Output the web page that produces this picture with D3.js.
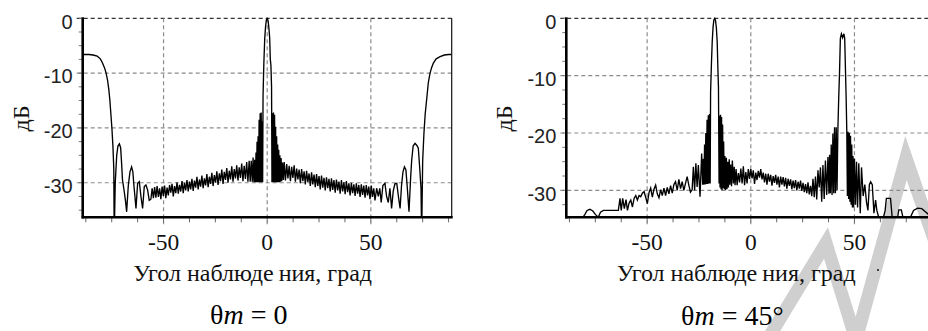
<!DOCTYPE html>
<html>
<head>
<meta charset="utf-8">
<script src="https://cdn.jsdelivr.net/npm/d3@7"></script>
<style>
body { margin: 0; background: #fff; }
svg { display: block; }
</style>
</head>
<body>
<svg id="chart" width="928" height="331"></svg>
<script>
// диаграмма направленности, θm = 0  [угол, дБ]
var pattern0 = [
  [-89,-6.6],[-86,-6.6],[-84,-6.7],[-82,-6.9],[-80.5,-7.4],[-79.5,-8.1],[-78.5,-9.0],[-77.7,-10.0],[-77,-11.3],[-76.4,-13.0],[-75.9,-14.9],[-75.4,-17.5],[-74.9,-20.1],[-74.4,-23.5],[-74.0,-27.5],[-73.8,-40],
  [-73.3,-30],[-72.6,-25],[-72.0,-23.3],[-71.3,-22.9],[-70.7,-23.6],[-70.3,-26],[-69.8,-29.5],[-69.0,-31.5],[-68.3,-33.5],[-67.8,-35.3],[-67.0,-30.5],[-66.2,-28],[-65.4,-27.1],[-64.8,-28],[-64.3,-30.5],[-63.8,-32.5],[-63.3,-34.7],
  [-62.5,-30.1],[-61.7,-29.8],[-60.9,-32.5],[-60.1,-34.7],[-59.3,-30.7],[-58.5,-30.4],[-57.7,-31.3],[-56.9,-33.2],[-56.1,-33.0],[-55.5,-31.0],[-54.9,-32.8],[-54.3,-30.8],[-53.7,-32.7],
  [-53.1,-30.6],[-52.5,-32.6],[-51.9,-31.0],[-51.3,-33.0],[-50.7,-30.7],[-50.1,-32.4],[-49.5,-30.5],[-48.9,-32.8],[-48.3,-30.9],[-47.7,-32.3],[-47.1,-30.4],[-46.5,-31.8],[-45.9,-30.2],[-45.3,-32.5],[-44.7,-30.6],[-44.1,-31.9],[-43.5,-29.9],[-42.9,-32.0],[-42.3,-30.4],[-41.7,-31.6],[-41.1,-29.7],[-40.5,-31.9],[-39.9,-30.0],[-39.3,-31.4],[-38.7,-29.5],[-38.1,-31.6],[-37.5,-29.8],[-36.9,-31.2],[-36.3,-29.3],[-35.7,-31.5],[-35.1,-29.6],[-34.5,-30.9],[-33.9,-28.9],[-33.3,-31.2],[-32.7,-29.4],[-32.1,-30.7],[-31.5,-28.7],[-30.9,-31.0],[-30.3,-29.2],[-29.7,-30.5],[-29.1,-28.4],[-28.5,-30.8],[-27.9,-28.9],[-27.3,-30.2],[-26.7,-28.2],[-26.1,-30.6],[-25.5,-28.6],[-24.9,-30.0],[-24.3,-27.9],[-23.7,-30.4],[-23.1,-28.3],[-22.5,-29.7],[-21.9,-27.6],[-21.3,-30.2],[-20.7,-28.0],[-20.1,-29.5],[-19.5,-27.3],[-18.9,-30.0],[-18.3,-27.8],[-17.7,-29.4],[-17.1,-27.0],[-16.5,-29.8],[-15.9,-27.5],[-15.3,-29.2],[-14.7,-26.8],[-14.1,-29.6],[-13.5,-27.2],[-12.9,-29.1],[-12.3,-26.5],[-11.7,-29.7],[-11.1,-26.9],[-10.5,-29.3],[-9.9,-26.2],[-9.3,-29.8],[-8.7,-26.0],[-8.2,-29.8],
  [-7.7,-26.0],[-7.2,-29.8],[-6.8,-25.4],[-6.4,-29.9],[-6.0,-25.8],[-5.7,-29.9],[-5.4,-24.5],[-5.15,-29.9],[-4.9,-22.5],[-4.65,-29.9],[-4.4,-21.5],[-4.15,-29.9],[-3.9,-18.5],[-3.65,-29.9],[-3.4,-17.3],[-3.15,-29.9],[-2.9,-17.2],[-2.65,-29.9],[-2.4,-18.8],[-2.2,-29.9],
  [-2.0,-14],[-1.6,-8],[-1.2,-3.8],[-0.8,-1.5],[-0.4,-0.3],[0,0],[0.4,-0.4],[0.8,-1.7],[1.2,-3.6],[1.5,-7.5],[1.8,-8.6],[2.1,-12.5],[2.3,-29.9],
  [2.55,-17.3],[2.8,-29.9],[3.05,-17.2],[3.3,-29.9],[3.55,-17.6],[3.8,-29.9],[4.05,-19.8],[4.3,-29.9],[4.55,-21.5],[4.8,-29.9],[5.05,-23.0],[5.3,-29.9],[5.55,-24.0],[5.8,-29.9],[6.1,-25.0],[6.4,-29.8],[6.7,-25.5],[7.0,-29.7],[7.4,-26.3],[7.8,-29.5],
  [8.2,-26.2],[8.8,-29.6],[9.4,-26.6],[10.0,-29.2],[10.6,-26.9],[11.2,-29.7],[11.8,-27.1],[12.4,-29.1],[13.0,-26.8],[13.6,-29.8],[14.2,-27.4],[14.8,-29.4],[15.4,-27.6],[16.0,-30.1],[16.6,-27.5],[17.2,-29.7],[17.8,-27.9],[18.4,-30.3],[19.0,-27.8],[19.6,-29.9],[20.2,-28.3],[20.8,-30.6],[21.4,-28.1],[22.0,-30.3],[22.6,-28.5],[23.2,-30.8],[23.8,-28.4],[24.4,-30.6],[25.0,-28.8],[25.6,-31.2],[26.2,-28.7],[26.8,-30.9],[27.4,-29.1],[28.0,-31.4],[28.6,-29.0],[29.2,-31.0],[29.8,-29.3],[30.4,-31.6],[31.0,-29.2],[31.6,-31.3],[32.2,-29.5],[32.8,-31.8],[33.4,-29.4],[34.0,-31.4],[34.6,-29.8],[35.2,-32.0],[35.8,-29.5],[36.4,-31.6],[37.0,-29.9],[37.6,-32.1],[38.2,-29.7],[38.8,-31.7],[39.4,-30.1],[40.0,-32.3],[40.6,-30.0],[41.2,-31.9],[41.8,-30.3],[42.4,-32.4],[43.0,-30.1],[43.6,-32.0],[44.2,-30.4],[44.8,-32.6],[45.4,-30.3],[46.0,-32.2],[46.6,-30.5],[47.2,-32.7],[47.8,-30.4],[48.4,-32.3],[49.0,-30.7],[49.6,-33.0],[50.2,-30.5],[50.8,-32.6],[51.4,-31.0],[52.0,-33.2],
  [52.8,-31.0],[53.6,-32.5],[54.3,-31.0],[55.0,-33.6],[55.8,-30.5],[56.8,-30.1],[57.6,-32.5],[58.4,-33.6],[59.2,-31.0],[60.0,-34.7],[60.8,-31.5],[61.6,-30.2],[62.5,-30.1],[63.3,-32.5],[64.1,-34.7],[64.8,-30.5],[65.5,-28.0],[66.2,-27.1],[66.9,-27.6],[67.5,-30.5],[68.4,-35.3],[69.2,-29.0],[69.7,-25.9],[70.4,-23.3],[71.3,-22.8],[72.2,-23.2],[72.9,-23.7],[73.6,-27.5],[74.2,-31],[74.5,-40],
  [75.0,-26],[75.6,-21],[76.2,-17.5],[76.9,-14.9],[77.7,-11.8],[78.5,-10.1],[79.3,-9.0],[80.1,-8.2],[81.5,-7.4],[83.4,-7.0],[85.5,-6.7],[87.5,-6.6],[89,-6.6]
];

// диаграмма направленности, θm = 45°  [угол, дБ]
var pattern45 = [
  [-89,-34.7],[-81,-34.7],[-80,-34.2],[-79,-33.5],[-77.6,-33.3],[-76.2,-33.6],[-75,-34.2],[-73.6,-34.7],[-72.5,-33.8],[-71.1,-33.5],[-63.9,-33.5],
  [-63.1,-31.4],[-62.5,-33.5],[-61.8,-31.4],[-61.0,-33.2],[-60.2,-31.6],[-59.5,-33.5],[-58.7,-32.2],[-57.9,-31.7],[-57.1,-32.9],[-56.3,-31.4],[-55.5,-30.9],[-54.7,-31.7],[-53.9,-30.9],[-53.1,-31.1],[-52.3,-30.5],[-51.5,-30.2],[-50.7,-31.2],[-49.9,-32.3],
  [-49.1,-30.4],[-48.3,-29.6],[-47.5,-31.2],[-46.7,-29.8],[-45.9,-29.1],[-45.1,-30.6],[-44.3,-31.3],[-43.5,-29.9],[-42.7,-30.9],[-41.9,-29.6],[-41.1,-30.9],[-40.3,-29.5],[-39.5,-30.6],[-38.7,-29.2],[-37.9,-30.5],[-37.1,-29.0],[-36.3,-28.5],[-35.5,-30.0],[-34.7,-28.1],[-33.9,-29.7],[-33.1,-28.5],[-32.3,-30.0],[-31.5,-28.8],[-30.7,-27.6],[-29.9,-29.1],[-29.1,-30.3],[-28.3,-29.9],
  [-27.7,-25.9],[-27.1,-30.0],[-26.5,-25.3],[-25.9,-29.4],[-25.3,-25.6],[-24.5,-31.1],[-23.7,-23.6],[-23.2,-29.0],
  [-22.9,-24.5],[-22.6,-29.0],[-22.3,-22.0],[-22.0,-29.0],[-21.7,-20.0],[-21.4,-28.9],[-21.1,-17.7],[-20.8,-28.9],[-20.5,-16.9],[-20.2,-28.8],[-19.9,-16.7],[-19.6,-28.8],
  [-19.4,-13],[-19.0,-8.0],[-18.6,-4.0],[-18.2,-1.5],[-17.8,-0.3],[-17.4,0],[-17.0,-0.4],[-16.6,-1.7],[-16.2,-4.2],[-15.9,-8.5],[-15.6,-12.0],[-15.3,-28.8],
  [-15.1,-17.0],[-14.85,-29.5],[-14.6,-16.8],[-14.35,-29.8],[-14.1,-17.2],[-13.85,-30.0],[-13.6,-18.5],[-13.35,-29.6],[-13.1,-21.5],[-12.8,-29.8],[-12.5,-24.0],[-12.2,-30.0],[-11.8,-24.3],[-11.5,-29.8],[-11.1,-25.0],[-10.8,-29.5],[-10.4,-24.6],[-10.1,-29.0],[-9.7,-25.5],[-9.3,-29.3],[-8.9,-24.8],[-8.4,-28.8],[-8.0,-25.9],[-7.6,-29.1],[-7.1,-26.3],[-6.6,-29.1],[-6.0,-27.0],[-5.4,-28.6],[-4.8,-26.2],[-4.2,-28.8],[-3.6,-25.8],[-3.0,-29.1],[-2.4,-26.8],[-1.8,-28.8],[-1.2,-26.3],[-0.6,-28.0],
  [0.0,-26.3],[0.6,-27.9],[1.2,-26.5],[1.8,-28.9],[2.4,-26.9],[3.0,-28.2],[3.6,-26.6],[4.2,-27.8],[4.8,-26.3],[5.4,-28.1],[6.0,-26.9],[6.6,-28.6],[7.2,-27.1],[7.8,-29.0],[8.4,-27.1],[9.0,-28.5],[9.6,-27.3],[10.2,-29.2],[10.8,-27.5],[11.4,-28.7],[12.0,-27.3],[12.6,-29.0],[13.2,-27.6],[13.8,-29.5],[14.4,-27.6],[15.0,-29.0],[15.6,-27.7],[16.2,-29.3],[16.8,-27.8],[17.4,-29.7],[18.0,-28.0],[18.6,-29.2],[19.2,-28.1],[19.8,-29.8],[20.4,-28.3],[21.0,-29.6],[21.6,-28.2],[22.2,-30.0],[22.8,-28.5],[23.4,-29.7],[24.0,-28.3],[24.6,-30.1],[25.2,-28.7],[25.8,-30.3],[26.4,-28.9],[27.0,-30.5],[27.6,-28.6],[28.2,-30.7],[28.8,-29.2],[29.4,-31.0],
  [30.0,-28.0],[30.6,-31.2],[31.2,-27.6],[31.8,-31.6],[32.4,-26.5],[33.0,-29.5],[33.6,-26.0],[34.2,-32.0],[34.8,-25.6],[35.4,-31.5],[36.0,-24.8],[36.6,-30.8],[37.2,-24.2],[37.7,-30.6],
  [38.0,-23.8],[38.4,-30.5],[38.8,-22.0],[39.2,-30.8],[39.6,-20.1],[40.0,-30.5],[40.4,-19.0],[40.8,-30.5],[41.2,-19.0],[41.6,-30.0],[42.0,-19.5],
  [42.4,-14],[42.8,-9.5],[43.2,-3.5],[43.7,-2.7],[44.3,-3.4],[44.9,-2.7],[45.3,-3.5],[45.7,-9.5],[46.0,-14],[46.3,-19.5],
  [46.6,-31.0],[46.9,-19.8],[47.2,-31.5],[47.5,-20.0],[47.8,-32.0],[48.1,-20.5],[48.4,-32.5],[48.7,-22.0],[49.0,-33.0],[49.3,-24.0],[49.6,-33.0],[50.0,-24.5],[50.5,-32.5],[51.0,-25.0],[51.5,-33.0],[52.1,-25.3],[52.8,-34.0],[53.4,-26.0],[54.2,-31.0],[55.0,-29.0],[55.8,-32.0],[56.5,-33.5],[57.2,-29.0],[57.8,-28.5],[58.6,-29.0],[59.4,-34.0],[60.2,-31.7],[60.8,-33.5],[61.7,-34.7],[64.0,-34.7],[64.8,-33.5],[65.4,-31.4],[67.4,-31.4],[68.2,-34.7],[70.8,-34.7],[71.4,-33.4],[72.6,-33.4],[73.4,-34.7],[77.0,-34.7],[78.5,-33.5],[80.5,-33.1],[82.5,-33.2],[84.5,-33.8],[86,-34.3],[89,-34.7]
];

var angleTicks = [-50, 0, 50];
var levelTicks = [0, -10, -20, -30];
var angleTitle = ["Угол наблюде", "ния, град"];
var levelTitle = "дБ";

var svg = d3.select("#chart");
var plotTop = 18.3, plotBottom = 217.3, plotWidth = 369;

// водяной знак
svg.append("path")
    .attr("d", "M752,365 L826,243 L856,340 L906,158 L942,262")
    .attr("fill", "none")
    .attr("stroke", "#cfcfcf")
    .attr("stroke-width", 13);

function drawPanel(data, x0, yMin, captionValue, captionY) {
    var x = d3.scaleLinear().domain([-89, 89]).range([x0, x0 + plotWidth]);
    var y = d3.scaleLinear().domain([yMin, 0]).range([plotBottom, plotTop]);
    var g = svg.append("g");
    var clipId = "clip" + Math.round(x0);

    svg.append("clipPath").attr("id", clipId)
        .append("rect")
        .attr("x", x0).attr("y", plotTop - 1)
        .attr("width", plotWidth).attr("height", plotBottom - plotTop + 1);

    // сетка
    g.selectAll(".hgrid").data(levelTicks).enter().append("line")
        .attr("x1", x0 - 6).attr("x2", x0 + plotWidth)
        .attr("y1", function(d) { return y(d); }).attr("y2", function(d) { return y(d); })
        .attr("stroke", function(d) { return d === 0 ? "#333" : "#8c8c8c"; })
        .attr("stroke-width", 1.2)
        .attr("stroke-dasharray", "4,3");
    g.selectAll(".vgrid").data(angleTicks).enter().append("line")
        .attr("x1", function(d) { return x(d); }).attr("x2", function(d) { return x(d); })
        .attr("y1", plotTop).attr("y2", plotBottom + 7)
        .attr("stroke", "#8c8c8c")
        .attr("stroke-width", 1.2)
        .attr("stroke-dasharray", "4,3");

    // мелкие штрихи
    g.selectAll(".xminor").data(d3.range(-87.5, 88, 12.5)).enter().append("line")
        .attr("x1", function(d) { return x(d); }).attr("x2", function(d) { return x(d); })
        .attr("y1", plotBottom).attr("y2", plotBottom + 5)
        .attr("stroke", "#666");
    g.selectAll(".yminor").data(d3.range(0, yMin, -2.5)).enter().append("line")
        .attr("x1", x0 - 4).attr("x2", x0)
        .attr("y1", function(d) { return y(d); }).attr("y2", function(d) { return y(d); })
        .attr("stroke", "#777");

    // кривая
    g.append("path")
        .datum(data)
        .attr("clip-path", "url(#" + clipId + ")")
        .attr("d", d3.line().x(function(d) { return x(d[0]); }).y(function(d) { return y(d[1]); }))
        .attr("fill", "none")
        .attr("stroke", "#000")
        .attr("stroke-width", 1.35);

    // оси
    g.append("line").attr("x1", x0 + plotWidth).attr("x2", x0 + plotWidth)
        .attr("y1", plotTop).attr("y2", plotBottom).attr("stroke", "#111").attr("stroke-width", 1.2);
    g.append("line").attr("x1", x0).attr("x2", x0)
        .attr("y1", plotTop - 1).attr("y2", plotBottom + 1.2).attr("stroke", "#000").attr("stroke-width", 2.6);
    g.append("line").attr("x1", x0 - 1).attr("x2", x0 + plotWidth + 1)
        .attr("y1", plotBottom).attr("y2", plotBottom).attr("stroke", "#000").attr("stroke-width", 2.6);

    // подписи
    g.selectAll(".ylab").data(levelTicks).enter().append("text")
        .attr("x", x0 - 10).attr("y", function(d) { return y(d) + 10.3; })
        .attr("text-anchor", "end")
        .attr("font-family", "Liberation Sans, Arial, sans-serif")
        .attr("font-size", 20)
        .attr("fill", "#222")
        .text(function(d) { return d; });
    g.selectAll(".xlab").data(angleTicks).enter().append("text")
        .attr("x", function(d) { return x(d); }).attr("y", 250)
        .attr("text-anchor", "middle")
        .attr("font-family", "Liberation Serif, Times New Roman, serif")
        .attr("font-size", 23.5)
        .attr("fill", "#111")
        .text(function(d) { return d; });

    g.append("text")
        .attr("transform", "translate(" + (x0 - 62) + ",118.5) rotate(-90)")
        .attr("text-anchor", "middle")
        .attr("dominant-baseline", "central")
        .attr("font-family", "Liberation Serif, Times New Roman, serif")
        .attr("font-size", 24)
        .attr("fill", "#111")
        .text(levelTitle);

    var t = g.append("text")
        .attr("x", x0 + 50.5).attr("y", 280.5)
        .attr("font-family", "Liberation Serif, Times New Roman, serif")
        .attr("font-size", 24)
        .attr("fill", "#111");
    t.append("tspan").text(angleTitle[0]);
    t.append("tspan").attr("dx", 5).text(angleTitle[1]);

    var c = g.append("text")
        .attr("x", x0 + 166).attr("y", captionY)
        .attr("text-anchor", "middle")
        .attr("font-family", "Liberation Serif, Times New Roman, serif")
        .attr("font-size", 28)
        .attr("fill", "#000");
    c.append("tspan").text("θ");
    c.append("tspan").attr("font-style", "italic").text("m");
    c.append("tspan").text(" = " + captionValue);
}

drawPanel(pattern0, 82.7, -36.3, "0", 324);
drawPanel(pattern45, 566.3, -34.7, "45°", 325);

// точка возле подписи
svg.append("rect").attr("x", 877).attr("y", 269).attr("width", 2).attr("height", 2).attr("fill", "#444");
</script>
</body>
</html>
